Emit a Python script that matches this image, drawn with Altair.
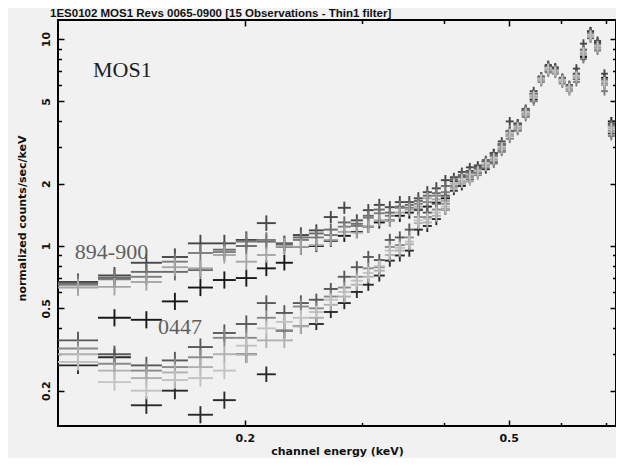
import altair as alt
import pandas as pd

TITLE = "1ES0102 MOS1 Revs 0065-0900 [15 Observations - Thin1 filter]"
X_TITLE = "channel energy (keV)"
Y_TITLE = "normalized counts/sec/keV"

# energy bin edges (keV)
bin_edges = [0.1045, 0.1201, 0.1346, 0.1499, 0.1641, 0.1790, 0.1938, 0.2085, 0.2227,
             0.2363, 0.2498, 0.2631, 0.2762, 0.2890, 0.3013, 0.3130, 0.3252, 0.3367,
             0.3486, 0.3597, 0.3711, 0.3829, 0.3951, 0.4077, 0.4191, 0.4309, 0.4430,
             0.4555, 0.4683, 0.4814, 0.4950, 0.5089, 0.5232, 0.5379, 0.5531, 0.5668,
             0.5808, 0.5952, 0.6099, 0.6250, 0.6405, 0.6564, 0.6727, 0.6893, 0.7058,
             0.7230]

# multiplicative half-height of the vertical error bar in each bin
err_k = [1.10, 1.10, 1.10, 1.10, 1.10, 1.10, 1.10, 1.09, 1.09, 1.09,
         1.07, 1.07, 1.07, 1.07, 1.07, 1.07, 1.07, 1.07, 1.07, 1.07,
         1.07, 1.07, 1.06, 1.05, 1.05, 1.05, 1.05, 1.05, 1.05, 1.05,
         1.05, 1.05, 1.05, 1.05, 1.05, 1.05, 1.05, 1.05, 1.05, 1.05,
         1.05, 1.05, 1.05, 1.05, 1.05]

s09 = [0.275, 0.22, 0.20, 0.225, 0.23, 0.25, 0.33, 0.40, 0.43, 0.45, 0.48, 0.55, 0.60, 0.68, 0.74,
       0.80, 0.95, 0.98, 1.05, 1.33, 1.35, 1.45, 1.55,
       2.02, 2.12, 2.22, 2.32, 2.52, 2.68, 3.02, 3.52, 3.78, 4.45, 5.35, 6.45, 7.25, 7.05, 6.35,
       5.85, 6.65, 8.70, 10.5, 9.30, 6.25, 3.75]
s08 = [0.30, 0.25, 0.23, 0.245, 0.26, 0.30, 0.30, 0.35, 0.35, 0.41, 0.45, 0.52, 0.57, 0.65, 0.71,
       0.76, 0.905, 0.95, 1.02, 1.29, 1.30, 1.40, 1.50,
       1.90, 2.00, 2.12, 2.22, 2.42, 2.58, 2.92, 3.40, 3.68, 4.30, 5.20, 6.30, 7.05, 6.90, 6.20,
       5.65, 6.45, 8.40, 10.2, 9.00, 6.00, 3.55]
s04 = [0.63, 0.635, 0.67, 0.79, 0.78, 0.905, 0.84, 0.905, 1.00, 0.99, 1.01, 1.07, 1.17, 1.16, 1.24,
       1.33, 1.33, 1.45, 1.50, 1.55, 1.70, 1.68, 1.65,
       2.00, 2.05, 2.05, 2.30, 2.50, 2.60, 3.00, 3.50, 3.70, 4.40, 5.30, 6.40, 7.20, 7.00, 6.30,
       5.80, 6.60, 8.60, 10.4, 9.20, 6.20, 3.70]
s07 = [0.32, 0.27, 0.25, 0.26, 0.29, 0.36, 0.36, 0.45, 0.39, 0.51, 0.50, 0.57, 0.63, 0.71, 0.78,
       0.79, 0.99, 1.01, 1.10, 1.38, 1.38, 1.50, 1.60,
       1.95, 2.05, 2.18, 2.28, 2.45, 2.62, 2.95, 3.45, 3.72, 4.35, 5.25, 6.35, 7.10, 6.95, 6.25,
       5.75, 6.50, 8.50, 10.3, 9.10, 6.10, 3.60]
s03 = [0.65, 0.69, 0.71, 0.84, 0.925, 0.935, 1.05, 1.07, 0.99, 1.07, 1.10, 1.13, 1.24, 1.25, 1.37,
       1.44, 1.40, 1.53, 1.53, 1.60, 1.63, 1.75, 1.82,
       1.93, 2.00, 2.15, 2.20, 2.40, 2.50, 2.85, 3.30, 3.60, 4.20, 5.00, 6.20, 6.90, 6.80, 6.10,
       5.60, 6.20, 8.00, 10.2, 8.80, 5.60, 3.40]
s10 = [0.66, 0.70, 0.75, 0.75, 0.765, 0.96, 1.00, 1.05, 1.02, 1.10, 1.15, 1.20, 1.30, 1.28, 1.40,
       1.50, 1.45, 1.55, 1.58, 1.65, 1.75, 1.80, 1.95,
       2.08, 2.18, 2.28, 2.38, 2.58, 2.75, 3.10, 3.60, 3.85, 4.55, 5.45, 6.55, 7.35, 7.15, 6.45,
       5.95, 6.75, 8.90, 10.7, 9.50, 6.40, 3.85]
s06 = [0.35, 0.30, 0.265, 0.28, 0.325, 0.38, 0.42, 0.53, 0.475, 0.53, 0.55, 0.62, 0.71, 0.79, 0.885,
       0.855, 1.07, 1.10, 1.20, 1.49, 1.45, 1.60, 1.75,
       2.10, 2.20, 2.25, 2.35, 2.55, 2.70, 3.05, 3.55, 3.80, 4.50, 5.40, 6.50, 7.30, 7.10, 6.40,
       5.90, 6.70, 8.80, 10.6, 9.40, 6.30, 3.80]
s02 = [0.67, 0.72, 0.83, 0.885, 1.03, 1.03, 1.07, 1.29, 1.03, 1.13, 1.19, 1.38, 1.53, 1.33, 1.49,
       1.58, 1.54, 1.63, 1.63, 1.70, 1.82, 1.90, 2.08,
       2.15, 2.28, 2.40, 2.45, 2.60, 2.81, 3.20, 4.00, 3.90, 4.60, 5.60, 6.60, 7.50, 7.30, 6.50,
       6.00, 7.20, 9.50, 10.8, 9.80, 6.80, 3.90]
s05 = [0.265, 0.29, 0.17, 0.20, 0.153, 0.18, 0.30, 0.24, 0.39, 0.41, 0.42, 0.48, 0.53, 0.60, 0.65,
       0.72, 0.85, 0.90, 0.95, 1.20, 1.25, 1.35, 1.50,
       1.85, 1.95, 2.10, 2.25, 2.35, 2.55, 2.90, 3.40, 3.65, 4.30, 5.10, 6.30, 7.00, 6.90, 6.20,
       5.70, 6.40, 8.40, 10.1, 9.00, 6.00, 3.50]
s01 = [None, 0.45, 0.44, 0.54, 0.63, 0.685, 0.70, 0.78, 0.83, 0.99, 1.00, 1.06, 1.12, 1.17, 1.24,
       1.30, 1.33, 1.40, 1.45, 1.50, 1.55, 1.62, 1.70,
       2.05, 2.15, 2.30, 2.40, 2.55, 2.80, 3.10, 3.60, 3.90, 4.50, 5.40, 6.50, 7.40, 7.20, 6.40,
       5.90, 6.80, 8.20, 10.9, 9.60, 6.50, 4.00]

# drawn in this order (darkest first, lightest on top)
series_names = ["s01", "s05", "s02", "s06", "s10", "s03", "s07", "s04", "s08", "s09"]
series_values = [s01, s05, s02, s06, s10, s03, s07, s04, s08, s09]
series_greys = ["#181818", "#2a2a2a", "#474747", "#595959", "#6a6a6a",
                "#7c7c7c", "#8a8a8a", "#a6a6a6", "#b0b0b0", "#c2c2c2"]

X_MAJOR = [0.2, 0.5]
X_MINOR = [0.3, 0.4, 0.6, 0.7]
Y_MAJOR = [0.2, 0.5, 1, 2, 5, 10]
Y_MINOR = [0.3, 0.4, 0.6, 0.7, 0.8, 0.9, 3, 4, 6, 7, 8, 9]

ann_text = ["MOS1", "894-900", "0447"]
ann_x = [0.118, 0.1108, 0.1479]
ann_y = [7.08, 0.935, 0.405]
ann_color = ["#1e1e1e", "#5f5f5f", "#5f5f5f"]

X_DOMAIN = [0.1045, 0.726]
Y_DOMAIN = [0.135, 12.36]
W, H = 558, 406

rows = []
for name, vals in zip(series_names, series_values):
    for i, v in enumerate(vals):
        if v is None:
            continue
        lo, hi = bin_edges[i], bin_edges[i + 1]
        k = err_k[i]
        rows.append(dict(series=name, lo=lo, hi=hi, xc=(lo * hi) ** 0.5,
                         y=v, ylo=v / k, yhi=v * k))
df = pd.DataFrame(rows)
ann = pd.DataFrame(dict(text=ann_text, x=ann_x, y=ann_y, color=ann_color))
anchor = pd.DataFrame(dict(x=[0.2], y=[1.0]))

xs = alt.Scale(type="log", domain=X_DOMAIN, nice=False)
ys = alt.Scale(type="log", domain=Y_DOMAIN, nice=False)
col = alt.Color("series:N", scale=alt.Scale(domain=series_names, range=series_greys), legend=None)

base = alt.Chart(df)
hbar = base.mark_rule(strokeWidth=1.9, clip=True).encode(
    x=alt.X("lo:Q", scale=xs, axis=None), x2="hi:Q",
    y=alt.Y("y:Q", scale=ys, axis=None), color=col)
vbar = base.mark_rule(strokeWidth=1.9, clip=True).encode(
    x=alt.X("xc:Q", scale=xs, axis=None),
    y=alt.Y("ylo:Q", scale=ys, axis=None), y2="yhi:Q", color=col)

texts = alt.Chart(ann).mark_text(font="Liberation Serif", fontSize=22, align="left",
                                 baseline="middle").encode(
    x=alt.X("x:Q", scale=xs, axis=None),
    y=alt.Y("y:Q", scale=ys, axis=None),
    text="text:N", color=alt.Color("color:N", scale=None))

LBL = dict(labelFont="DejaVu Sans", labelFontSize=11, labelFontWeight="bold",
           labelColor="#111111")
TTL = dict(titleFont="DejaVu Sans", titleFontSize=11, titleFontWeight="bold",
           titleColor="#111111")


def x_axis_layer(axis):
    return alt.Chart(anchor).mark_point(opacity=0).encode(
        x=alt.X("x:Q", scale=xs, axis=axis),
        y=alt.Y("y:Q", scale=ys, axis=None))


def y_axis_layer(axis):
    return alt.Chart(anchor).mark_point(opacity=0).encode(
        x=alt.X("x:Q", scale=xs, axis=None),
        y=alt.Y("y:Q", scale=ys, axis=axis))


def tick_axis(orient, offset, values, size):
    return alt.Axis(orient=orient, offset=offset, values=values, tickSize=size,
                    tickColor="#000000", tickWidth=1.5, labels=False, domain=False,
                    grid=False, title=None)


x_lab = alt.Axis(orient="bottom", values=X_MAJOR, format=".1f", ticks=False, domain=False,
                 grid=False, labelPadding=6, title=X_TITLE, titleY=25,
                 titleBaseline="middle", **LBL, **TTL)
y_lab = alt.Axis(orient="left", values=Y_MAJOR, format="~g", ticks=False, domain=False,
                 grid=False, labelAngle=270, labelAlign="center", labelBaseline="bottom",
                 labelPadding=7, title=Y_TITLE, titleX=-36, titleY=198,
                 titleAlign="center", titleBaseline="middle", **LBL, **TTL)

layers = [
    hbar, vbar, texts,
    x_axis_layer(x_lab),
    x_axis_layer(tick_axis("top", -H, X_MAJOR, 6)),
    x_axis_layer(tick_axis("top", -H, X_MINOR, 3.5)),
    x_axis_layer(tick_axis("bottom", -H, X_MAJOR, 6)),
    x_axis_layer(tick_axis("bottom", -H, X_MINOR, 3.5)),
    y_axis_layer(y_lab),
    y_axis_layer(tick_axis("right", -W, Y_MAJOR, 6)),
    y_axis_layer(tick_axis("right", -W, Y_MINOR, 3.5)),
    y_axis_layer(tick_axis("left", -W, Y_MAJOR, 6)),
    y_axis_layer(tick_axis("left", -W, Y_MINOR, 3.5)),
]

chart = alt.layer(*layers).resolve_scale(
    x="shared", y="shared"
).resolve_axis(
    x="independent", y="independent"
).properties(
    width=W, height=H,
    title=alt.TitleParams(TITLE, anchor="start", frame="group", dx=-8, offset=0,
                          font="Liberation Sans", fontSize=11.5, fontWeight="bold",
                          color="#111111"),
    autosize=alt.AutoSizeParams(type="none"),
    padding={"left": 50, "top": 12, "right": 0, "bottom": 32},
    background="#f1f1f1",
).configure_view(
    stroke="#000000", strokeWidth=2, fill="#f1f1f1"
)

chart.save("out.html", embed_options={"renderer": "svg", "actions": False})
